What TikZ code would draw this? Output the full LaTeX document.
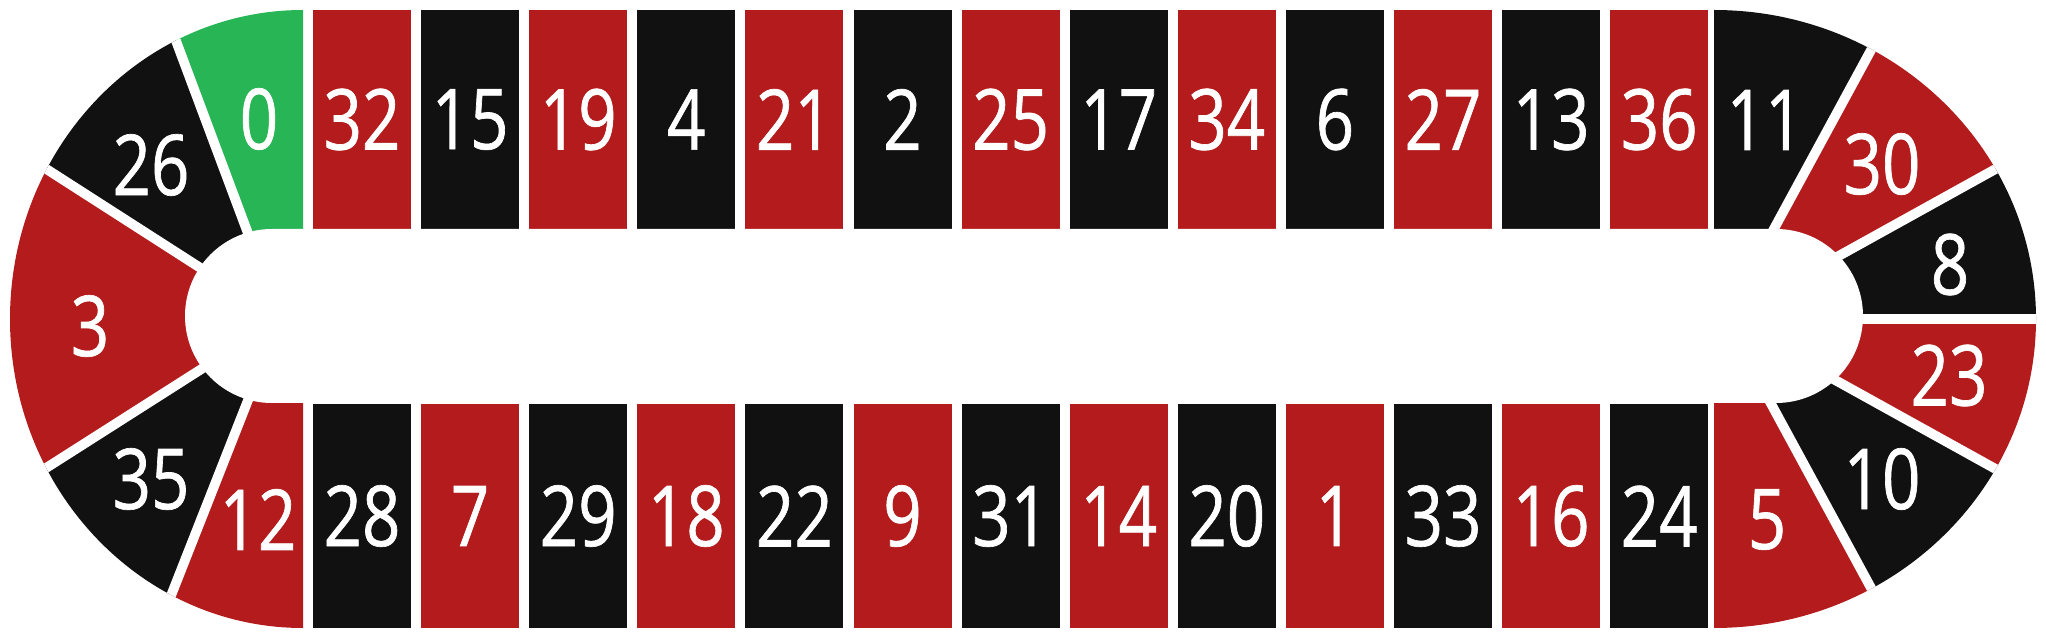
\documentclass[tikz,border=0pt]{standalone}
\usepackage{fontspec}
\setmainfont{Open Sans}[FakeStretch=0.8, FakeBold=0.8]
\usetikzlibrary{positioning}
\definecolor{rred}{HTML}{B31B1C}
\definecolor{rblk}{HTML}{111111}
\definecolor{rgrn}{HTML}{28B555}

\begin{document}
\begin{tikzpicture}[x=1pt, y=1pt,
  node distance=9.7pt,
  num/.style={text=white, font=\fontsize{84}{84}\selectfont, inner sep=0pt},
  cell/.style={num, minimum width=98pt},
  top/.style={cell, minimum height=219pt},
  bot/.style={cell, minimum height=224pt},
  sep/.style={white, line width=9.7pt},
]
\useasboundingbox (0,0) rectangle (2046,638);

% top row
\node[top, fill=rred] (n32) at (362,518.5) {32};
\node[top, fill=rblk, right=of n32] (n15) {15};
\node[top, fill=rred, right=of n15] (n19) {19};
\node[top, fill=rblk, right=of n19] (n4) {4};
\node[top, fill=rred, right=of n4] (n21) {21};
\node[top, fill=rblk, right=of n21] (n2) {2};
\node[top, fill=rred, right=of n2] (n25) {25};
\node[top, fill=rblk, right=of n25] (n17) {17};
\node[top, fill=rred, right=of n17] (n34) {34};
\node[top, fill=rblk, right=of n34] (n6) {6};
\node[top, fill=rred, right=of n6] (n27) {27};
\node[top, fill=rblk, right=of n27] (n13) {13};
\node[top, fill=rred, right=of n13] (n36) {36};

% bottom row
\node[bot, fill=rblk] (n28) at (362,122) {28};
\node[bot, fill=rred, right=of n28] (n7) {7};
\node[bot, fill=rblk, right=of n7] (n29) {29};
\node[bot, fill=rred, right=of n29] (n18) {18};
\node[bot, fill=rblk, right=of n18] (n22) {22};
\node[bot, fill=rred, right=of n22] (n9) {9};
\node[bot, fill=rblk, right=of n9] (n31) {31};
\node[bot, fill=rred, right=of n31] (n14) {14};
\node[bot, fill=rblk, right=of n14] (n20) {20};
\node[bot, fill=rred, right=of n20] (n1) {1};
\node[bot, fill=rblk, right=of n1] (n33) {33};
\node[bot, fill=rred, right=of n33] (n16) {16};
\node[bot, fill=rblk, right=of n16] (n24) {24};

% left end
\coordinate (lc) at (280,319);
\begin{scope}
  \clip (303,10) -- (303,628) arc[start angle=90, end angle=270, x radius=293, y radius=309] -- cycle;
  \fill[rgrn] (lc) -- +(20:700) -- +(110.5:700) -- cycle;
  \fill[rblk] (lc) -- +(110.5:700) -- +(147.3:700) -- cycle;
  \fill[rred] (lc) -- +(147.3:700) -- +(212.5:700) -- cycle;
  \fill[rblk] (lc) -- +(212.5:700) -- +(248.5:700) -- cycle;
  \fill[rred] (lc) -- +(248.5:700) -- +(340:700) -- cycle;
  \draw[sep] (lc) -- +(110.5:700);
  \draw[sep] (lc) -- +(147.3:700);
  \draw[sep] (lc) -- +(212.5:700);
  \draw[sep] (lc) -- +(248.5:700);
\end{scope}

% right end
\coordinate (rc) at (1725,319);
\begin{scope}
  \clip (1714,628) arc[start angle=90, end angle=-90, x radius=322, y radius=309] -- cycle;
  \fill[rblk] (rc) -- +(61.5:700) -- +(150:700) -- cycle;
  \fill[rred] (rc) -- +(29:700) -- +(61.5:700) -- cycle;
  \fill[rblk] (rc) -- +(0:700) -- +(29:700) -- cycle;
  \fill[rred] (rc) -- +(-29:700) -- +(0:700) -- cycle;
  \fill[rblk] (rc) -- +(-61.5:700) -- +(-29:700) -- cycle;
  \fill[rred] (rc) -- +(-150:700) -- +(-61.5:700) -- cycle;
  \draw[sep] (rc) -- +(61.5:700);
  \draw[sep] (rc) -- +(29:700);
  \draw[sep] (rc) -- +(0:700);
  \draw[sep] (rc) -- +(-29:700);
  \draw[sep] (rc) -- +(-61.5:700);
\end{scope}

% centre hole
\fill[white] (272,409) -- (1776,409) arc[start angle=90, end angle=-90, radius=87]
  -- (272,235) arc[start angle=270, end angle=90, radius=87] -- cycle;

% end labels
\node[num] (n0) at (259,519) {0};
\node[num] (n26) at (151,473) {26};
\node[num] (n3) at (90,312) {3};
\node[num] (n35) at (151,159) {35};
\node[num] (n12) at (258,118.5) {12};
\node[num] (n11) at (1765,518) {11};
\node[num] (n30) at (1882,474) {30};
\node[num] (n8) at (1950,373.5) {8};
\node[num] (n23) at (1949,262.5) {23};
\node[num] (n10) at (1882,159) {10};
\node[num] (n5) at (1767,118.5) {5};
\end{tikzpicture}
\end{document}
